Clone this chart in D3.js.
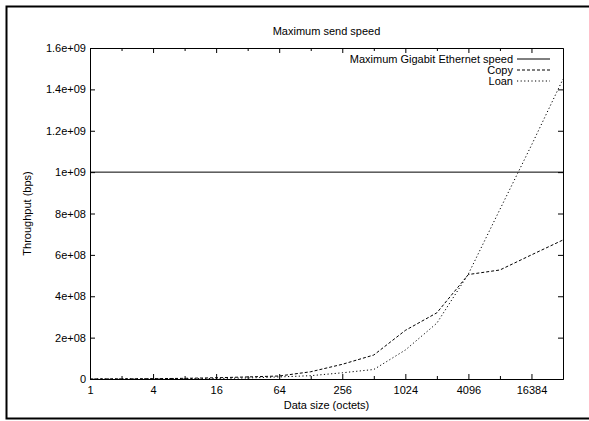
<!DOCTYPE html>
<html>
<head>
<meta charset="utf-8">
<script src="https://cdn.jsdelivr.net/npm/d3@7"></script>
<style>
    body { margin: 0; background: #fff; }
    svg { display: block; font-family: "Liberation Sans", Arial, sans-serif; }
    text { fill: #000; }
</style>
</head>
<body>
<div id="graph"></div>
<script>
const svgw = 589
const svgh = 421
const plotLeft = 90
const plotRight = 563
const plotTop = 48
const plotBottom = 379

const sizes = [1, 2, 4, 8, 16, 32, 64, 128, 256, 512, 1024, 2048, 4096, 8192, 16384, 32768]
const copySpeed = [4e5, 8e5, 1.6e6, 3.2e6, 6e6, 1.0e7, 1.45e7, 3.5e7, 7.1e7, 1.16e8, 2.35e8, 3.2e8, 5.05e8, 5.27e8, 6.0e8, 6.72e8]
const loanSpeed = [2e5, 4e5, 8e5, 1.6e6, 2.5e6, 5e6, 1.0e7, 1.6e7, 3.0e7, 4.6e7, 1.4e8, 2.7e8, 5.08e8, 8.2e8, 1.13e9, 1.45e9]
const gigabit = 1e9

const xTicks = [1, 4, 16, 64, 256, 1024, 4096, 16384]
const xMinorTicks = [2, 8, 32, 128, 512, 2048, 8192]
const yTicks = [0, 2e8, 4e8, 6e8, 8e8, 1e9, 1.2e9, 1.4e9, 1.6e9]
const yTickLabels = ['0', '2e+08', '4e+08', '6e+08', '8e+08', '1e+09', '1.2e+09', '1.4e+09', '1.6e+09']

const series = [
    { name: 'Maximum Gigabit Ethernet speed', dash: null },
    { name: 'Copy', dash: '3,2' },
    { name: 'Loan', dash: '1.2,2.4' }
]

const svg = d3.select('#graph')
    .append('svg')
    .attr('width', svgw)
    .attr('height', svgh)

svg.append('rect')
    .attr('x', 6.5)
    .attr('y', 6.5)
    .attr('width', 640)
    .attr('height', 412)
    .attr('fill', 'none')
    .attr('stroke', '#000')
    .attr('stroke-width', 2)

const xScale = d3.scaleLog().base(2)
    .domain([1, 32768])
    .range([plotLeft, plotRight])
const yScale = d3.scaleLinear()
    .domain([0, 1.6e9])
    .range([plotBottom, plotTop])

function styleAxis(g) {
    g.selectAll('path, line').attr('stroke', '#000').attr('stroke-width', 1)
    g.selectAll('text').attr('font-size', '11px').attr('font-family', '"Liberation Sans", Arial, sans-serif').attr('fill', '#000')
}

svg.append('g')
    .attr('transform', `translate(0,${plotBottom})`)
    .call(d3.axisBottom(xScale).tickValues(xTicks).tickFormat(d => d).tickSizeInner(-5).tickSizeOuter(0).tickPadding(7))
    .call(styleAxis)

svg.append('g')
    .attr('transform', `translate(0,${plotBottom})`)
    .call(d3.axisBottom(xScale).tickValues(xMinorTicks).tickFormat('').tickSizeInner(-3).tickSizeOuter(0))
    .call(styleAxis)

svg.append('g')
    .attr('transform', `translate(0,${plotTop})`)
    .call(d3.axisTop(xScale).tickValues(xTicks).tickFormat('').tickSizeInner(-5).tickSizeOuter(0))
    .call(styleAxis)

svg.append('g')
    .attr('transform', `translate(0,${plotTop})`)
    .call(d3.axisTop(xScale).tickValues(xMinorTicks).tickFormat('').tickSizeInner(-3).tickSizeOuter(0))
    .call(styleAxis)

svg.append('g')
    .attr('transform', `translate(${plotLeft},0)`)
    .call(d3.axisLeft(yScale).tickValues(yTicks).tickFormat((d, i) => yTickLabels[i]).tickSizeInner(-5).tickSizeOuter(0).tickPadding(4))
    .call(styleAxis)

svg.append('g')
    .attr('transform', `translate(${plotRight},0)`)
    .call(d3.axisRight(yScale).tickValues(yTicks).tickFormat('').tickSizeInner(-5).tickSizeOuter(0))
    .call(styleAxis)

svg.append('text')
    .attr('x', (plotLeft + plotRight) / 2)
    .attr('y', 31)
    .attr('dy', '0.35em')
    .attr('text-anchor', 'middle')
    .attr('font-size', '11px')
    .text('Maximum send speed')

svg.append('text')
    .attr('x', (plotLeft + plotRight) / 2)
    .attr('y', 405)
    .attr('dy', '0.35em')
    .attr('text-anchor', 'middle')
    .attr('font-size', '11px')
    .text('Data size (octets)')

svg.append('text')
    .attr('transform', `translate(27,${(plotTop + plotBottom) / 2}) rotate(-90)`)
    .attr('dy', '0.35em')
    .attr('text-anchor', 'middle')
    .attr('font-size', '11px')
    .text('Throughput (bps)')

const line = d3.line()
    .x(d => xScale(d[0]))
    .y(d => yScale(d[1]))

svg.append('line')
    .attr('x1', xScale(1))
    .attr('x2', xScale(32768))
    .attr('y1', yScale(gigabit))
    .attr('y2', yScale(gigabit))
    .attr('stroke', '#000')
    .attr('stroke-width', 1)

svg.append('path')
    .datum(d3.zip(sizes, copySpeed))
    .attr('d', line)
    .attr('fill', 'none')
    .attr('stroke', '#000')
    .attr('stroke-width', 1)
    .attr('stroke-dasharray', series[1].dash)

svg.append('path')
    .datum(d3.zip(sizes, loanSpeed))
    .attr('d', line)
    .attr('fill', 'none')
    .attr('stroke', '#000')
    .attr('stroke-width', 1)
    .attr('stroke-dasharray', series[2].dash)

const legend = svg.append('g')
    .selectAll('g')
    .data(series)
    .enter()
    .append('g')
    .attr('transform', (d, i) => `translate(0,${59 + i * 11})`)

legend.append('text')
    .attr('x', 513)
    .attr('dy', '0.35em')
    .attr('text-anchor', 'end')
    .attr('font-size', '11px')
    .text(d => d.name)

legend.append('line')
    .attr('x1', 517)
    .attr('x2', 550)
    .attr('stroke', '#000')
    .attr('stroke-width', 1)
    .attr('stroke-dasharray', d => d.dash)
</script>
</body>
</html>
